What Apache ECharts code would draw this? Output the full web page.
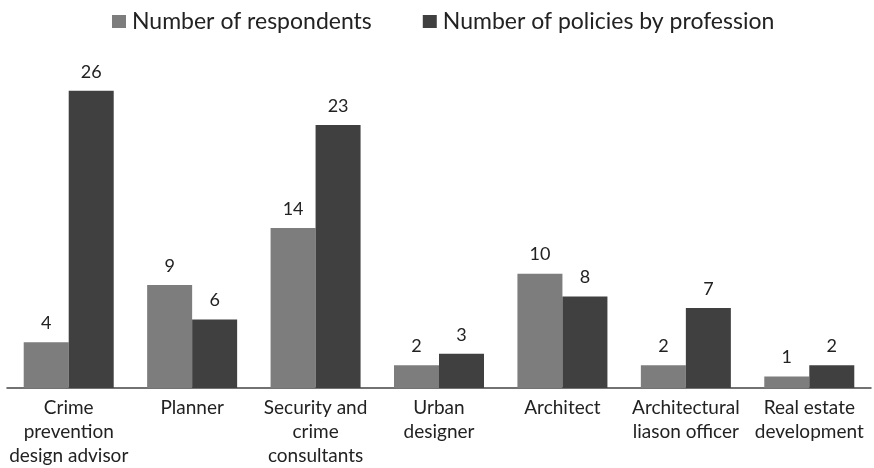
<!DOCTYPE html>
<html><head><meta charset="utf-8">
<script src="https://cdn.jsdelivr.net/npm/echarts@6/dist/echarts.min.js"></script>
<style>html,body{margin:0;padding:0;background:#fff}#c{width:874px;height:468px}</style>
</head><body><div id="c"></div>
<script>
const categories = ["Crime\nprevention\ndesign advisor","Planner","Security and\ncrime\nconsultants","Urban\ndesigner","Architect","Architectural\nliason officer","Real estate\ndevelopment"];
const respondents = [4,9,14,2,10,2,1];
const policies = [26,6,23,3,8,7,2];
const seriesNames = ["Number of respondents","Number of policies by profession"];
const FONT = "Lato";
const chart = echarts.init(document.getElementById('c'), null, {renderer:'canvas'});
chart.setOption({
  animation:false,
  textStyle:{fontFamily:FONT},
  legend:{top:5,left:107,itemWidth:14,itemHeight:13,itemGap:51,icon:'rect',
    textStyle:{fontSize:23,color:'#222',fontFamily:FONT,padding:[0,0,0,1]},
    data:seriesNames},
  grid:{left:7,right:3,top:45,bottom:78,containLabel:false},
  xAxis:{type:'category',data:categories,
    axisLine:{lineStyle:{color:'#444',width:1.5}},axisTick:{show:false},
    axisLabel:{interval:0,fontSize:19,color:'#222',lineHeight:24,margin:8,fontFamily:FONT}},
  yAxis:{type:'value',min:0,max:30,show:false,splitLine:{show:false}},
  series:[
    {name:seriesNames[0],type:'bar',data:respondents,barWidth:45,barGap:'0%',
     itemStyle:{color:'#7d7d7d'},
     label:{show:true,position:'top',distance:10,fontSize:18,color:'#222',fontFamily:FONT}},
    {name:seriesNames[1],type:'bar',data:policies,barWidth:45,barGap:'0%',
     itemStyle:{color:'#404040'},
     label:{show:true,position:'top',distance:10,fontSize:18,color:'#222',fontFamily:FONT}}
  ]
});
</script></body></html>
